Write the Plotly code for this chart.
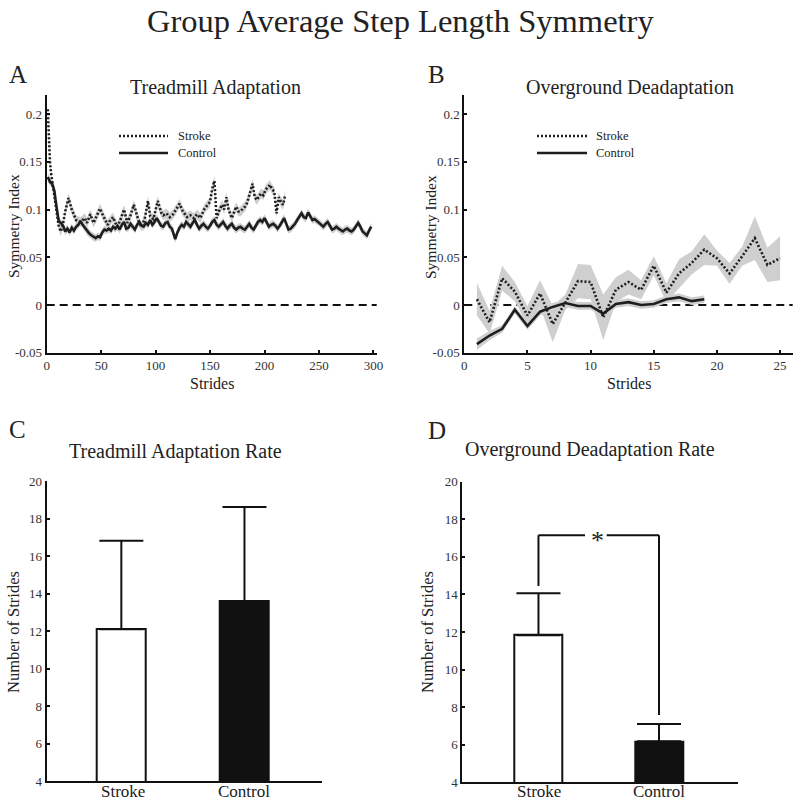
import plotly.graph_objects as go

# ---------------- data ----------------
# Panel A: treadmill adaptation (stride, symmetry index)
stroke_a_x = [1, 2, 3, 4, 5, 7, 9, 11, 13, 15, 17, 20, 23, 27, 31, 35, 37, 40, 43, 46, 49, 52, 56, 58,
              61, 63, 65, 68, 71, 74, 77, 80, 83, 85, 87, 90, 93, 95, 98, 102, 105, 107, 110, 113, 116,
              119, 122, 125, 129, 132, 135, 138, 141, 145, 148, 150, 152, 154, 156, 158, 161, 163, 165,
              167, 170, 172, 174, 176, 178, 180, 182, 184, 187, 189, 191, 193, 195, 197, 199, 201, 203,
              205, 207, 209, 211, 213, 215, 217, 219]
stroke_a_y = [0.205, 0.175, 0.150, 0.138, 0.130, 0.118, 0.100, 0.083, 0.077, 0.085, 0.098, 0.112, 0.100,
              0.089, 0.087, 0.091, 0.086, 0.095, 0.086, 0.093, 0.101, 0.093, 0.084, 0.088, 0.092, 0.086,
              0.082, 0.090, 0.100, 0.086, 0.094, 0.105, 0.092, 0.086, 0.082, 0.090, 0.109, 0.093, 0.090,
              0.109, 0.097, 0.094, 0.096, 0.092, 0.095, 0.100, 0.106, 0.098, 0.092, 0.094, 0.091, 0.095,
              0.091, 0.101, 0.105, 0.108, 0.122, 0.130, 0.091, 0.098, 0.105, 0.100, 0.113, 0.100, 0.091,
              0.098, 0.103, 0.098, 0.098, 0.101, 0.103, 0.107, 0.118, 0.127, 0.113, 0.110, 0.114, 0.117,
              0.115, 0.121, 0.123, 0.126, 0.121, 0.119, 0.096, 0.113, 0.108, 0.105, 0.115]
stroke_a_sem = 0.005

control_a_x = [1, 3, 5, 7, 9, 11, 13, 15, 17, 19, 21, 23, 25, 27, 29, 31, 33, 35, 37, 39, 41, 43, 45, 47,
               49, 51, 53, 55, 57, 59, 61, 63, 65, 67, 69, 71, 73, 75, 77, 79, 81, 83, 85, 87, 89, 91, 93,
               95, 97, 99, 101, 103, 105, 107, 109, 111, 113, 115, 117, 118, 120, 122, 124, 126, 128, 130,
               132, 134, 136, 138, 140, 142, 144, 146, 148, 150, 152, 154, 156, 158, 160, 162, 164, 166,
               168, 170, 172, 174, 176, 178, 180, 182, 184, 186, 188, 190, 192, 194, 196, 198, 200, 202,
               204, 206, 208, 210, 212, 214, 216, 218, 220, 222, 224, 226, 228, 230, 232, 234, 236, 238,
               240, 242, 244, 246, 248, 250, 252, 254, 256, 258, 260, 262, 264, 266, 268, 270, 272, 274,
               276, 278, 280, 282, 284, 286, 288, 290, 292, 294, 296, 298]
control_a_y = [0.134, 0.129, 0.127, 0.120, 0.103, 0.088, 0.086, 0.083, 0.077, 0.080, 0.076, 0.081, 0.078,
               0.082, 0.084, 0.088, 0.084, 0.081, 0.077, 0.075, 0.073, 0.071, 0.070, 0.072, 0.071, 0.076,
               0.079, 0.078, 0.080, 0.078, 0.082, 0.080, 0.083, 0.079, 0.084, 0.087, 0.080, 0.081, 0.085,
               0.082, 0.079, 0.084, 0.087, 0.083, 0.082, 0.086, 0.084, 0.089, 0.084, 0.087, 0.091, 0.087,
               0.083, 0.082, 0.086, 0.087, 0.082, 0.080, 0.072, 0.069, 0.076, 0.081, 0.084, 0.082, 0.087,
               0.084, 0.082, 0.086, 0.089, 0.084, 0.080, 0.083, 0.085, 0.082, 0.080, 0.083, 0.087, 0.089,
               0.084, 0.082, 0.085, 0.087, 0.083, 0.080, 0.083, 0.085, 0.081, 0.079, 0.081, 0.082, 0.080,
               0.079, 0.082, 0.085, 0.081, 0.079, 0.083, 0.087, 0.089, 0.087, 0.091, 0.087, 0.082, 0.084,
               0.085, 0.083, 0.080, 0.083, 0.087, 0.091, 0.085, 0.079, 0.080, 0.082, 0.085, 0.089, 0.093,
               0.096, 0.092, 0.091, 0.097, 0.093, 0.089, 0.090, 0.088, 0.087, 0.084, 0.082, 0.085, 0.087,
               0.083, 0.079, 0.080, 0.082, 0.080, 0.078, 0.077, 0.079, 0.080, 0.078, 0.077, 0.079, 0.083,
               0.086, 0.082, 0.077, 0.075, 0.073, 0.078, 0.082]
control_a_sem = 0.004

# Panel B: overground deadaptation
stroke_b_x = list(range(1, 26))
stroke_b_y = [0.006, -0.018, 0.028, 0.014, -0.011, 0.012, -0.020, 0.003, 0.025, 0.024, -0.013, 0.016,
              0.024, 0.016, 0.041, 0.013, 0.033, 0.044, 0.058, 0.049, 0.033, 0.051, 0.070, 0.042, 0.049]
stroke_b_sem = [0.017, 0.012, 0.013, 0.010, 0.010, 0.014, 0.019, 0.008, 0.018, 0.018, 0.024, 0.013,
                0.013, 0.010, 0.010, 0.010, 0.015, 0.012, 0.016, 0.008, 0.011, 0.010, 0.023, 0.018, 0.023]
control_b_x = list(range(1, 20))
control_b_y = [-0.041, -0.032, -0.025, -0.005, -0.022, -0.007, -0.002, 0.002, -0.001, -0.001, -0.009,
               0.001, 0.003, 0.000, 0.001, 0.006, 0.008, 0.004, 0.006]
control_b_sem = [0.006, 0.005, 0.004, 0.004, 0.004, 0.004, 0.004, 0.004, 0.004, 0.004, 0.004,
                 0.004, 0.004, 0.004, 0.004, 0.004, 0.004, 0.004, 0.004]

# Panels C and D: rates
groups = ["Stroke", "Control"]
tm_rate = [12.1, 13.6]
tm_rate_err = [4.72, 5.02]
og_rate = [11.83, 6.18]
og_rate_err = [2.23, 0.92]

# ---------------- style ----------------
FONT = "Liberation Serif"
INK = "#1e1e1e"
BAND = "#cfcfcf"
W, H = 800, 805


def px(x):
    return x / W


def py(y):
    return 1 - y / H


fig = go.Figure()


def band(xs, ys, sem, xa, ya):
    sems = sem if isinstance(sem, list) else [sem] * len(ys)
    up = [v + s for v, s in zip(ys, sems)]
    lo = [v - s for v, s in zip(ys, sems)]
    fig.add_trace(go.Scatter(x=xs + xs[::-1], y=up + lo[::-1], fill="toself", fillcolor=BAND,
                             line=dict(width=0), mode="lines", hoverinfo="skip", xaxis=xa, yaxis=ya,
                             showlegend=False))


band(stroke_a_x, stroke_a_y, stroke_a_sem, "x", "y")
band(control_a_x, control_a_y, control_a_sem, "x", "y")
band(stroke_b_x, stroke_b_y, stroke_b_sem, "x2", "y2")
band(control_b_x, control_b_y, control_b_sem, "x2", "y2")

fig.add_trace(go.Scatter(x=stroke_a_x, y=stroke_a_y, mode="lines", line=dict(color=INK, width=2.6, dash="2px,2px"),
                         xaxis="x", yaxis="y", showlegend=False))
fig.add_trace(go.Scatter(x=control_a_x, y=control_a_y, mode="lines", line=dict(color=INK, width=2.6),
                         xaxis="x", yaxis="y", showlegend=False))
fig.add_trace(go.Scatter(x=stroke_b_x, y=stroke_b_y, mode="lines", line=dict(color=INK, width=2.6, dash="2px,2px"),
                         xaxis="x2", yaxis="y2", showlegend=False))
fig.add_trace(go.Scatter(x=control_b_x, y=control_b_y, mode="lines", line=dict(color=INK, width=2.6),
                         xaxis="x2", yaxis="y2", showlegend=False))

# bars
bar_pos = [1, 2]
for vals, errs, xa, ya in [(tm_rate, tm_rate_err, "x3", "y3"), (og_rate, og_rate_err, "x4", "y4")]:
    fig.add_trace(go.Bar(x=bar_pos, y=vals, width=0.4, xaxis=xa, yaxis=ya, showlegend=False,
                         marker=dict(color=["white", "#111111"], line=dict(color="#111111", width=2)),
                         error_y=dict(type="data", array=errs, arrayminus=[0, 0], symmetric=False,
                                      color="#111111", thickness=2, width=22)))

tickfont = dict(family=FONT, size=13, color="#333333")
axis_common = dict(showline=True, linecolor="#111111", linewidth=2, ticks="inside", ticklen=3,
                   tickcolor="#111111", tickwidth=1.5, showgrid=False, zeroline=False, tickfont=tickfont,
                   mirror=False, automargin=False)

si_ticks = [-0.05, 0, 0.05, 0.1, 0.15, 0.2]
si_text = ["-0.05", "0", "0.05", "0.1", "0.15", "0.2"]

fig.update_layout(
    width=W, height=H, margin=dict(l=0, r=0, t=0, b=0, autoexpand=False),
    paper_bgcolor="white", plot_bgcolor="white", bargap=0,
    xaxis=dict(axis_common, domain=[px(46.7), px(376.7)], range=[0, 303], tickvals=[0, 50, 100, 150, 200, 250, 300],
               anchor="y"),
    yaxis=dict(axis_common, domain=[py(352.7), py(95)], range=[-0.05, 0.22], tickvals=si_ticks, ticktext=si_text,
               anchor="x"),
    xaxis2=dict(axis_common, domain=[px(464.3), px(792.7)], range=[0, 26], tickvals=[0, 5, 10, 15, 20, 25],
                anchor="y2"),
    yaxis2=dict(axis_common, domain=[py(352.7), py(95)], range=[-0.05, 0.22], tickvals=si_ticks, ticktext=si_text,
                anchor="x2"),
    xaxis3=dict(axis_common, domain=[px(46.7), px(321.7)], range=[0.394, 2.627], tickvals=bar_pos,
                showticklabels=False, ticks="", anchor="y3"),
    yaxis3=dict(axis_common, domain=[py(781), py(481)], range=[4, 20], tickvals=[4, 6, 8, 10, 12, 14, 16, 18, 20],
                anchor="x3"),
    xaxis4=dict(axis_common, domain=[px(462.3), px(737.7)], range=[0.368, 2.653], tickvals=bar_pos,
                showticklabels=False, ticks="", anchor="y4"),
    yaxis4=dict(axis_common, domain=[py(782.3), py(481.7)], range=[4, 20], tickvals=[4, 6, 8, 10, 12, 14, 16, 18, 20],
                anchor="x4"),
)

shapes = []
# zero reference lines
for xa, ya in [("x", "y"), ("x2", "y2")]:
    shapes.append(dict(type="line", xref=xa + " domain", yref=ya, x0=0, x1=1, y0=0, y1=0,
                       line=dict(color="#111111", width=2, dash="8px,5px"), layer="below"))

# legends
for lx0, lx1 in [(119, 168), (537, 587)]:
    shapes.append(dict(type="line", xref="paper", yref="paper", x0=px(lx0), x1=px(lx1), y0=py(136), y1=py(136),
                       line=dict(color=INK, width=2.6, dash="2px,2px")))
    shapes.append(dict(type="line", xref="paper", yref="paper", x0=px(lx0), x1=px(lx1), y0=py(153), y1=py(153),
                       line=dict(color=INK, width=2.6)))

# significance bracket in D
sig_y = 17.15
sig_left_bottom = 14.45
sig_right_bottom = 7.58
gap_left, gap_right, star_x = 1.386, 1.566, 1.488
br = dict(color="#111111", width=2)
shapes += [
    dict(type="line", xref="x4", yref="y4", x0=1, x1=1, y0=sig_left_bottom, y1=sig_y, line=br),
    dict(type="line", xref="x4", yref="y4", x0=1, x1=gap_left, y0=sig_y, y1=sig_y, line=br),
    dict(type="line", xref="x4", yref="y4", x0=gap_right, x1=2, y0=sig_y, y1=sig_y, line=br),
    dict(type="line", xref="x4", yref="y4", x0=2, x1=2, y0=sig_right_bottom, y1=sig_y, line=br),
]
fig.update_layout(shapes=shapes)

ann = []


def text(s, x, y, size, angle=0, anchor="center", color="#222222"):
    ann.append(dict(text=s, x=px(x), y=py(y), xref="paper", yref="paper", showarrow=False, xanchor=anchor,
                    yanchor="middle", textangle=angle, font=dict(family=FONT, size=size, color=color)))


text("Group Average Step Length Symmetry", 400, 21, 32.5)
text("A", 18, 74, 25)
text("B", 436, 74, 25)
text("C", 17, 429, 25)
text("D", 437, 430, 25)
text("Treadmill Adaptation", 215, 87, 20)
text("Overground Deadaptation", 630, 87, 20)
text("Treadmill Adaptation Rate", 175, 451, 20)
text("Overground Deadaptation Rate", 590, 450, 20)
text("Strides", 212, 383, 16)
text("Strides", 629, 383, 16)
text("Symmetry Index", 13, 226, 15.5, angle=-90)
text("Symmetry Index", 430, 227, 15.5, angle=-90)
text("Number of Strides", 13, 632, 16.5, angle=-90)
text("Number of Strides", 427, 632, 16.5, angle=-90)
text("Stroke", 176, 136, 12.5, anchor="left")
text("Control", 176, 153, 12.5, anchor="left")
text("Stroke", 594, 136, 12.5, anchor="left")
text("Control", 594, 153, 12.5, anchor="left")
# category labels under the bars (C and D)
for cx, label in [(123, groups[0]), (244.5, groups[1]), (538.5, groups[0]), (659, groups[1])]:
    text(label, cx, 791, 17)
ann.append(dict(text="*", x=star_x, y=sig_y, xref="x4", yref="y4", showarrow=False, yanchor="middle",
                yshift=-5, font=dict(family=FONT, size=26, color="#222222")))
fig.update_layout(annotations=ann)

fig.write_html("out.html", config={"displayModeBar": False},
               post_script="document.body.style.margin='0';document.body.style.overflow='hidden';")
